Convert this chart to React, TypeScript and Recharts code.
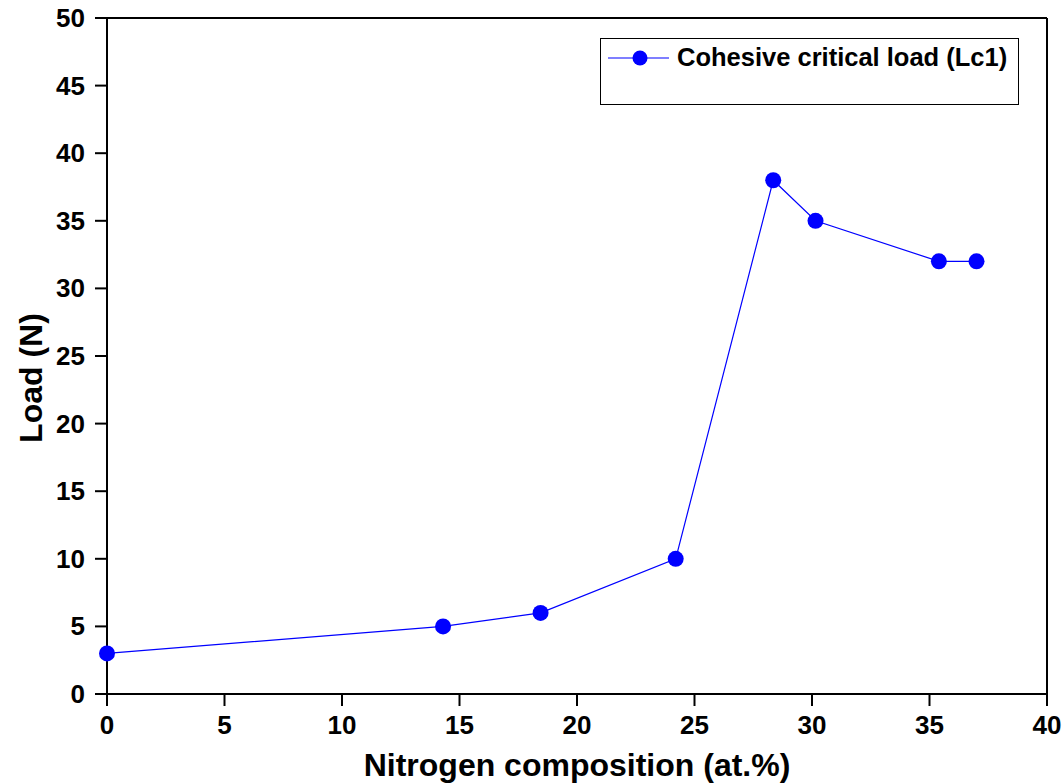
import React from "react";
import { LineChart, Line, XAxis, YAxis, ReferenceLine } from "recharts";

const nitrogen = [0, 14.3, 18.45, 24.2, 28.35, 30.15, 35.4, 37.0];
const loadLc1 = [3, 5, 6, 10, 38, 35, 32, 32];
const xTicks = [0, 5, 10, 15, 20, 25, 30, 35, 40];
const yTicks = [0, 5, 10, 15, 20, 25, 30, 35, 40, 45, 50];

const data = nitrogen.map((n, i) => ({ n, load: loadLc1[i] }));

const font = "'Liberation Sans', Arial, sans-serif";

const XTick = (props: any) => {
  const { x, y, payload } = props;
  return (
    <text
      x={x}
      y={y + 26}
      textAnchor="middle"
      fill="#000"
      fontSize={26}
      fontWeight={700}
      fontFamily={font}
    >
      {payload.value}
    </text>
  );
};

const YTick = (props: any) => {
  const { x, y, payload } = props;
  return (
    <text
      x={x - 8}
      y={y + 9}
      textAnchor="end"
      fill="#000"
      fontSize={26}
      fontWeight={700}
      fontFamily={font}
    >
      {payload.value}
    </text>
  );
};

// y-axis title sits a bit below the plot's middle in the original
const YTitle = () => (
  <text
    transform="translate(42, 378) rotate(-90)"
    textAnchor="middle"
    fill="#000"
    fontSize={32}
    fontWeight={700}
    fontFamily={font}
  >
    Load (N)
  </text>
);

function LegendBox() {
  return (
    <div
      style={{
        position: "absolute",
        left: 600,
        top: 38,
        width: 419,
        height: 67,
        border: "1.5px solid #000",
        background: "#fff",
        boxSizing: "border-box",
        fontFamily: font,
      }}
    >
      <svg width={70} height={30} style={{ position: "absolute", left: 5, top: 4 }}>
        <line x1={2} y1={15} x2={63} y2={15} stroke="#0000ff" strokeWidth={1.2} />
        <circle cx={34} cy={15} r={7.5} fill="#0000ff" />
      </svg>
      <span
        style={{
          position: "absolute",
          left: 76,
          top: 4,
          fontSize: 25.5,
          fontWeight: 700,
          color: "#000",
          whiteSpace: "nowrap",
        }}
      >
        Cohesive critical load (Lc1)
      </span>
    </div>
  );
}

export default function App() {
  return (
    <div style={{ position: "absolute", left: 0, top: 0, width: 1064, height: 784, background: "#fff" }}>
      <LineChart
        width={1064}
        height={784}
        data={data}
        margin={{ top: 18, right: 17, bottom: 0, left: 0 }}
      >
        <XAxis
          type="number"
          dataKey="n"
          domain={[0, 40]}
          ticks={xTicks}
          height={90}
          tickSize={12}
          tick={<XTick />}
          axisLine={{ stroke: "#000", strokeWidth: 2 }}
          tickLine={{ stroke: "#000", strokeWidth: 2 }}
          label={{
            value: "Nitrogen composition (at.%)",
            position: "insideBottom",
            offset: 8,
            style: { fill: "#000", fontSize: 32, fontWeight: 700, fontFamily: font },
          }}
        />
        <YAxis
          type="number"
          domain={[0, 50]}
          ticks={yTicks}
          width={107}
          tickSize={12}
          tick={<YTick />}
          axisLine={{ stroke: "#000", strokeWidth: 2 }}
          tickLine={{ stroke: "#000", strokeWidth: 2 }}
          label={{ content: () => <YTitle /> }}
        />
        <ReferenceLine y={50} stroke="#000" strokeWidth={2} />
        <ReferenceLine x={40} stroke="#000" strokeWidth={2} />
        <Line
          type="linear"
          dataKey="load"
          stroke="#0000ff"
          strokeWidth={1.2}
          dot={{ r: 8, fill: "#0000ff", stroke: "#0000ff", strokeWidth: 0 }}
          activeDot={false}
          isAnimationActive={false}
        />
      </LineChart>
      <LegendBox />
    </div>
  );
}
